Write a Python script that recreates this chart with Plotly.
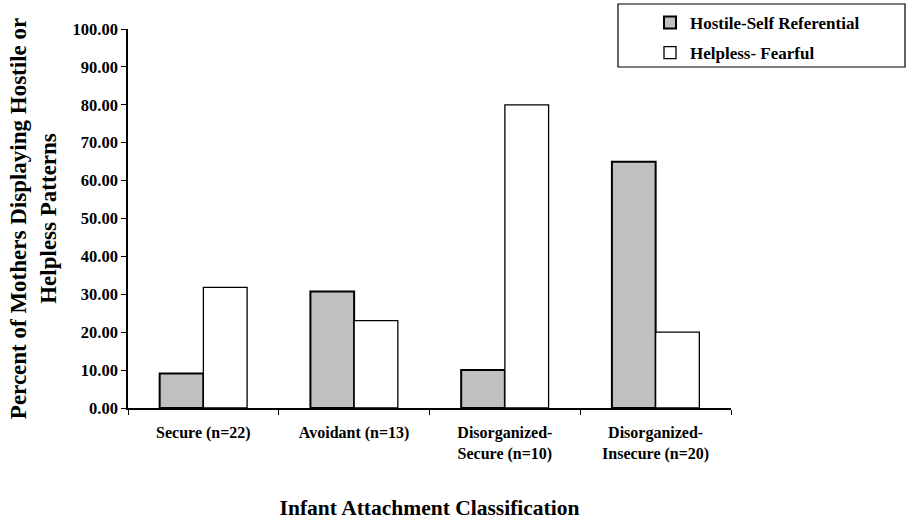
import plotly.graph_objects as go

categories = ["Secure (n=22)", "Avoidant (n=13)", "Disorganized-<br>Secure (n=10)", "Disorganized-<br>Insecure (n=20)"]
hostile = [9.09, 30.77, 10.00, 65.00]
helpless = [31.82, 23.08, 80.00, 20.00]
series_names = ["Hostile-Self Referential", "Helpless- Fearful"]
y_ticks = [0, 10, 20, 30, 40, 50, 60, 70, 80, 90, 100]

FONT = "Liberation Serif, Times New Roman, serif"

W, H = 907, 524
L, R, T, B = 128, 176, 29, 116
pw = W - L - R
ph = H - T - B

def px_x(x):
    return (x - L) / pw

def px_y(y):
    return (H - B - y) / ph

fig = go.Figure()
fig.add_trace(go.Bar(x=categories, y=hostile, name=series_names[0], legendgroup="a",
                     marker=dict(color="#c0c0c0", line=dict(color="black", width=2))))
fig.add_trace(go.Bar(x=categories, y=helpless, name=series_names[1], legendgroup="b",
                     marker=dict(color="white", line=dict(color="black", width=1.3))))

fig.update_layout(
    width=W, height=H,
    margin=dict(l=L, r=R, t=T, b=B, autoexpand=False),
    paper_bgcolor="white", plot_bgcolor="white",
    barmode="group", bargap=0.42, bargroupgap=0,
    font=dict(family=FONT, color="black"),
    showlegend=True,
    legend=dict(x=px_x(650), y=px_y(5), xanchor="left", yanchor="top",
                font=dict(family=FONT, size=17, weight="bold"),
                bgcolor="rgba(0,0,0,0)", borderwidth=0,
                traceorder="grouped", tracegroupgap=5),
    shapes=[dict(type="rect", xref="paper", yref="paper",
                 x0=px_x(618), x1=px_x(905),
                 y0=px_y(67), y1=px_y(4),
                 line=dict(color="black", width=1.2), fillcolor="rgba(0,0,0,0)", layer="above")],
)

fig.update_xaxes(
    type="category", showline=True, linecolor="black", linewidth=1.5,
    ticks="outside", tickson="boundaries", ticklen=5, tickcolor="black",
    tickfont=dict(family=FONT, size=16, weight="bold"), ticklabelstandoff=9,
    showgrid=False, zeroline=False,
    title=dict(text="Infant Attachment Classification", standoff=38,
               font=dict(family=FONT, size=21.5, weight="bold")),
)
fig.update_yaxes(
    range=[0, 100], tickvals=y_ticks, tickformat=".2f",
    showline=True, linecolor="black", linewidth=1.5,
    ticks="outside", ticklen=5, tickcolor="black",
    tickfont=dict(family=FONT, size=16.5, weight="bold"),
    showgrid=False, zeroline=False,
    title=dict(text="Percent of Mothers Displaying Hostile or<br>Helpless Patterns", standoff=10,
               font=dict(family=FONT, size=23, weight="bold")),
)

fig.write_html("out.html", config={"displayModeBar": False},
               post_script="document.body.style.margin='0';document.body.style.overflow='hidden';")
